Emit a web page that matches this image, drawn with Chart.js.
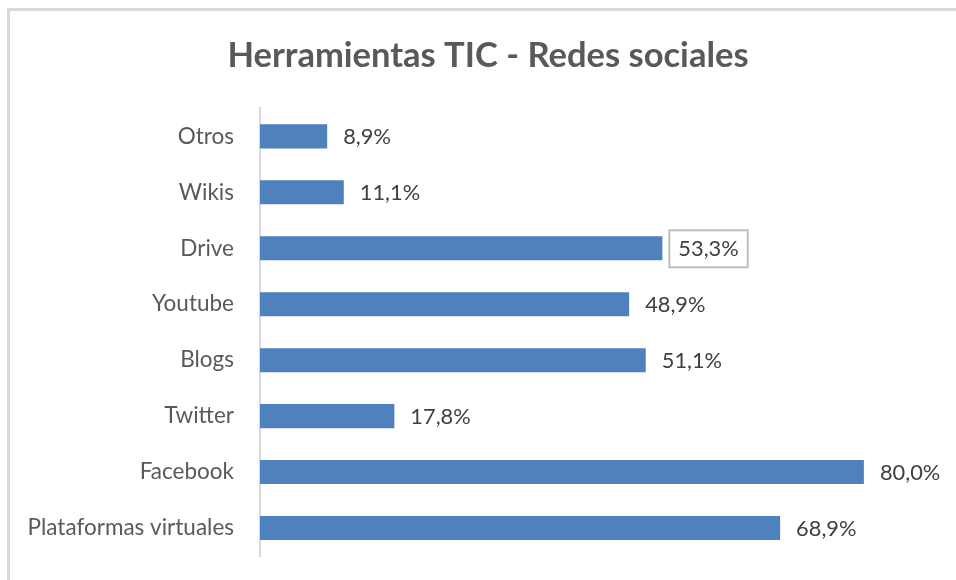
<!DOCTYPE html>
<html>
<head>
<meta charset="utf-8">
<script src="https://cdn.jsdelivr.net/npm/chart.js@4/dist/chart.umd.min.js"></script>
<style>
  html, body { margin: 0; padding: 0; background: #ffffff; }
  #wrap { position: relative; width: 956px; height: 580px; overflow: hidden; }
  #frame { position: absolute; left: 7px; top: 8px; width: 960px; height: 600px;
           border-top: 3px solid #d9d9d9; border-left: 3px solid #d9d9d9; box-sizing: border-box; }
  canvas { position: absolute; left: 0; top: 0; }
</style>
</head>
<body>
<div id="wrap">
  <div id="frame"></div>
  <canvas id="c" width="956" height="580"></canvas>
</div>
<script>
const categories = ["Otros", "Wikis", "Drive", "Youtube", "Blogs", "Twitter", "Facebook", "Plataformas virtuales"];
const values = [8.9, 11.1, 53.3, 48.9, 51.1, 17.8, 80.0, 68.9];
const boxedLabels = ["Drive"];
const titleText = "Herramientas TIC - Redes sociales";

const FONT = "Lato, 'Open Sans', sans-serif";

function fmt(v) { return v.toFixed(1).replace('.', ',') + '%'; }

const valueLabels = {
  id: 'valueLabels',
  afterDatasetsDraw(chart) {
    const ctx = chart.ctx;
    const meta = chart.getDatasetMeta(0);
    ctx.save();
    ctx.font = "21.8px " + FONT;
    ctx.fillStyle = "#404040";
    ctx.textBaseline = "middle";
    ctx.textAlign = "left";
    meta.data.forEach((bar, i) => {
      const txt = fmt(values[i]);
      const x = bar.x + 16;
      const y = bar.y;
      if (boxedLabels.includes(categories[i])) {
        const w = ctx.measureText(txt).width;
        ctx.strokeStyle = "#bfbfbf";
        ctx.lineWidth = 2;
        ctx.strokeRect(x - 9, y - 18, w + 18, 37);
      }
      ctx.fillText(txt, x, y + 1);
    });
    ctx.restore();
  }
};

new Chart(document.getElementById('c'), {
  type: 'bar',
  data: {
    labels: categories,
    datasets: [{
      data: values,
      backgroundColor: '#4f81bd',
      borderWidth: 0,
      barPercentage: 0.43,
      categoryPercentage: 1.0
    }]
  },
  options: {
    indexAxis: 'y',
    responsive: false,
    animation: false,
    layout: { padding: { left: 0, right: -20, top: 0, bottom: 24 } },
    plugins: {
      legend: { display: false },
      tooltip: { enabled: false },
      title: {
        display: true,
        text: titleText,
        color: '#595959',
        font: { family: FONT, size: 34.5, weight: 'bold' },
        padding: { top: 35, bottom: 32 }
      }
    },
    scales: {
      x: {
        display: false,
        min: 0,
        max: 92.2
      },
      y: {
        afterFit(scale) { scale.width = 260; },
        grid: { display: false, drawTicks: true, tickLength: 26 },
        border: { display: true, color: '#d9d9d9', width: 2 },
        ticks: {
          color: '#595959',
          font: { family: FONT, size: 22.5 },
          padding: 0
        }
      }
    }
  },
  plugins: [valueLabels]
});
</script>
</body>
</html>
